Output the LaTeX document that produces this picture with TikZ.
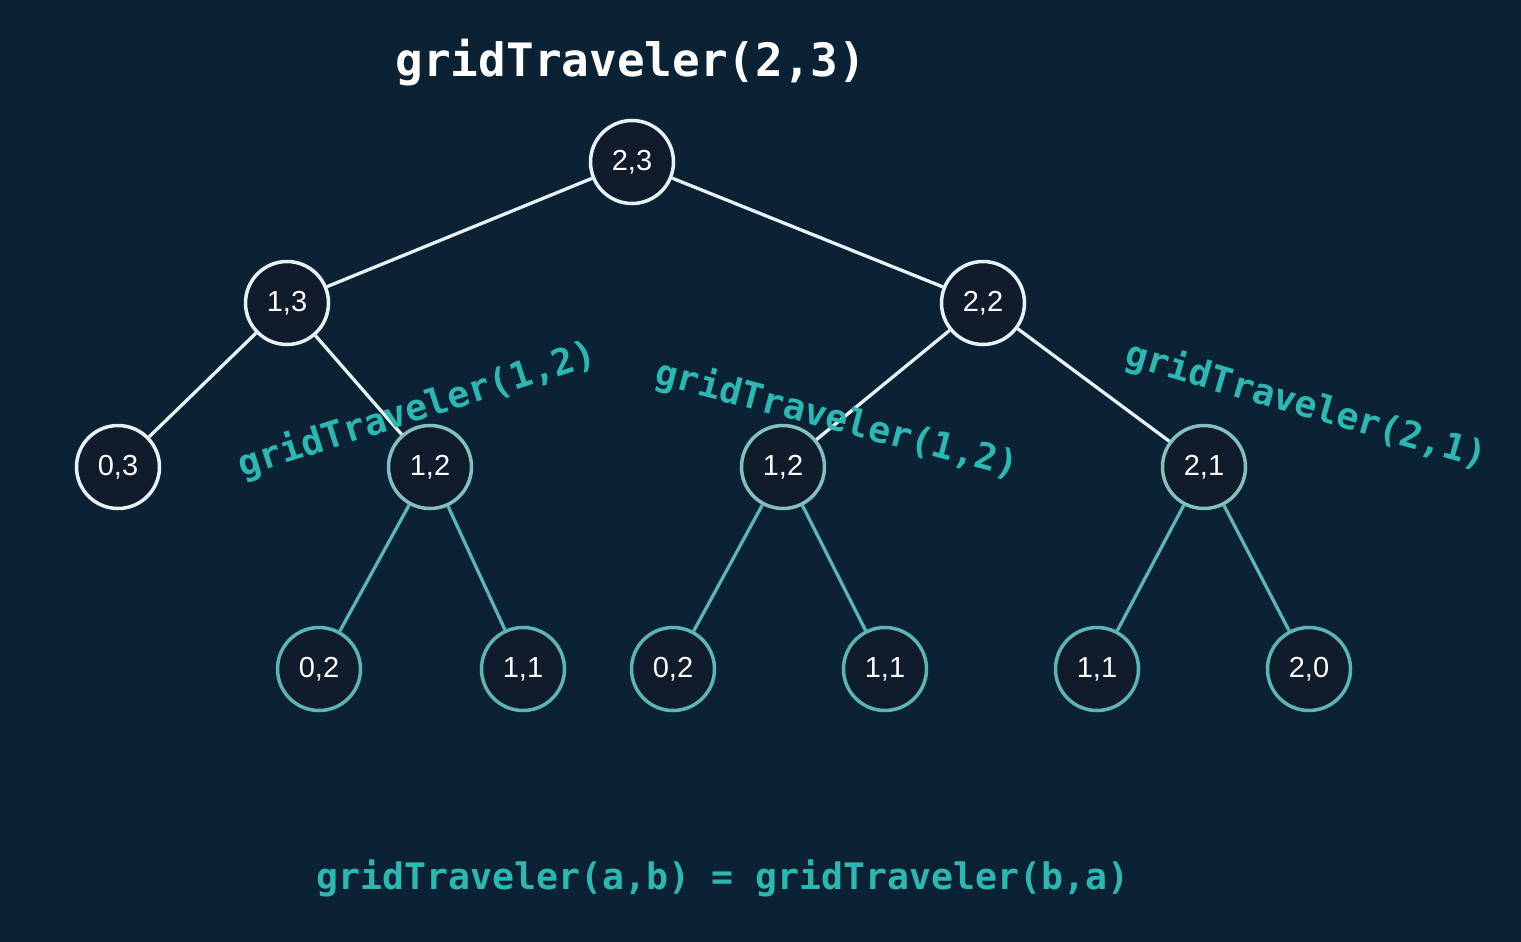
\documentclass[tikz,border=0pt]{standalone}
\usepackage{fontspec}
\setmainfont{Liberation Sans}
\newfontfamily\codefont{DejaVu Sans Mono}
\definecolor{bgc}{HTML}{0B2234}
\definecolor{nodefill}{HTML}{101B2B}
\definecolor{linew}{HTML}{E6F2F6}
\definecolor{midring}{HTML}{84BFC0}
\definecolor{tealring}{HTML}{5DB4B4}
\definecolor{tealtext}{HTML}{2CB8B2}
\tikzset{
  vert/.style={circle, minimum size=83pt, inner sep=0pt, line width=3.5pt, fill=nodefill, text=white,
    font=\fontsize{29}{32}\selectfont},
  topv/.style={vert, draw=linew},
  midv/.style={vert, draw=midring},
  lowv/.style={vert, draw=tealring},
  wedge/.style={draw=linew, line width=3.3pt},
  tedge/.style={draw=tealring, line width=3.3pt},
  calltext/.style={text=tealtext, font=\codefont\bfseries\fontsize{36.5}{40}\selectfont, inner sep=0pt},
}
\begin{document}
\begin{tikzpicture}[x=1pt,y=-1pt]
\fill[bgc] (0,0) rectangle (1521,942);
\useasboundingbox (0,0) rectangle (1521,942);
\node[text=white, font=\codefont\bfseries\fontsize{46}{50}\selectfont, inner sep=0pt] (title) at (631,63) {gridTraveler(2,3)};
\node[topv] (a) at (632,162) {2,3};
\node[topv] (b) at (287,303) {1,3};
\node[topv] (c) at (983,303) {2,2};
\node[topv] (d) at (118,467) {0,3};
\node[midv] (e) at (430,467) {1,2};
\node[midv] (f) at (783,467) {1,2};
\node[midv] (g) at (1204,467) {2,1};
\node[lowv] (h) at (319,669) {0,2};
\node[lowv] (i) at (523,669) {1,1};
\node[lowv] (j) at (673,669) {0,2};
\node[lowv] (k) at (885,669) {1,1};
\node[lowv] (l) at (1097,669) {1,1};
\node[lowv] (m) at (1309,669) {2,0};
\draw[wedge] (a) -- (b);
\draw[wedge] (a) -- (c);
\draw[wedge] (b) -- (d);
\draw[wedge] (b) -- (e);
\draw[wedge] (c) -- (f);
\draw[wedge] (c) -- (g);
\draw[tedge] (e) -- (h);
\draw[tedge] (e) -- (i);
\draw[tedge] (f) -- (j);
\draw[tedge] (f) -- (k);
\draw[tedge] (g) -- (l);
\draw[tedge] (g) -- (m);
\node[calltext, rotate=17.7] (la) at (417,410) {gridTraveler(1,2)};
\node[calltext, rotate=-14.7] (lb) at (837,420) {gridTraveler(1,2)};
\node[calltext, rotate=-16.2] (lc) at (1306,406) {gridTraveler(2,1)};
\node[calltext] (eq) at (723,878) {gridTraveler(a,b) = gridTraveler(b,a)};
\end{tikzpicture}
\end{document}
